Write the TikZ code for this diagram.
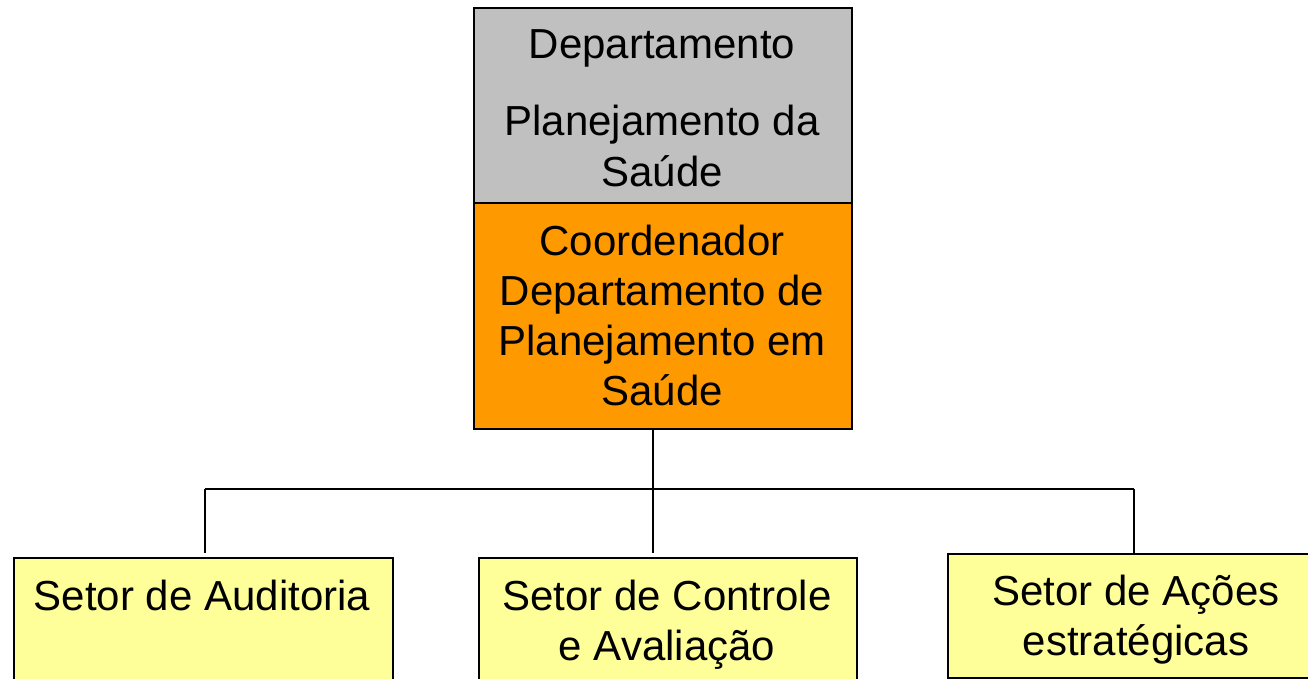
\documentclass[tikz,border=0pt]{standalone}
\usepackage{fontspec}
\setmainfont{Liberation Sans}
\definecolor{boxgray}{HTML}{C0C0C0}
\definecolor{boxorange}{HTML}{FF9900}
\definecolor{boxyellow}{HTML}{FFFF99}
\begin{document}
\begin{tikzpicture}[x=1pt,y=-1pt,
  box/.style={draw=black, line width=2.2pt, inner sep=0pt, anchor=north west},
  lbl/.style={anchor=base, inner sep=0pt, font=\fontsize{42}{50}\selectfont},
  conn/.style={draw=black, line width=2pt}]
\useasboundingbox (0,0) rectangle (1308,679);
\clip (0,0) rectangle (1308,679);
% boxes
\node[box, fill=boxgray, minimum width=378pt, minimum height=195pt] (dep) at (473,7) {};
\node[box, fill=boxorange, minimum width=378pt, minimum height=226pt] (coord) at (473,202) {};
\node[box, fill=boxyellow, minimum width=379pt, minimum height=140pt] (aud) at (13,557) {};
\node[box, fill=boxyellow, minimum width=378pt, minimum height=140pt] (ctrl) at (478,557) {};
\node[box, fill=boxyellow, minimum width=378pt, minimum height=124pt] (acoes) at (947,553) {};
% texts
\node[lbl] (dep1) at (662,59) {Departamento};
\node[lbl] (dep2) at (662,136) {Planejamento da};
\node[lbl] (dep3) at (662,186) {Saúde};
\node[lbl] (co1) at (662,255) {Coordenador};
\node[lbl] (co2) at (662,305) {Departamento de};
\node[lbl] (co3) at (662,355) {Planejamento em};
\node[lbl] (co4) at (662,405) {Saúde};
\node[lbl] (au1) at (202,610) {Setor de Auditoria};
\node[lbl] (ct1) at (667,610) {Setor de Controle};
\node[lbl] (ct2) at (667,660) {e Avaliação};
\node[lbl] (ac1) at (1136,605) {Setor de Ações};
\node[lbl] (ac2) at (1136,655) {estratégicas};
% connectors
\coordinate (jm) at (653,489);
\coordinate (jl) at (205,489);
\coordinate (jr) at (1134,489);
\draw[conn] (coord.south -| jm) -- (jm);
\draw[conn] (jl) -- (jr);
\draw[conn] (jl) -- (jl |- acoes.north);
\draw[conn] (jm) -- (jm |- acoes.north);
\draw[conn] (jr) -- (jr |- acoes.north);
\end{tikzpicture}
\end{document}
